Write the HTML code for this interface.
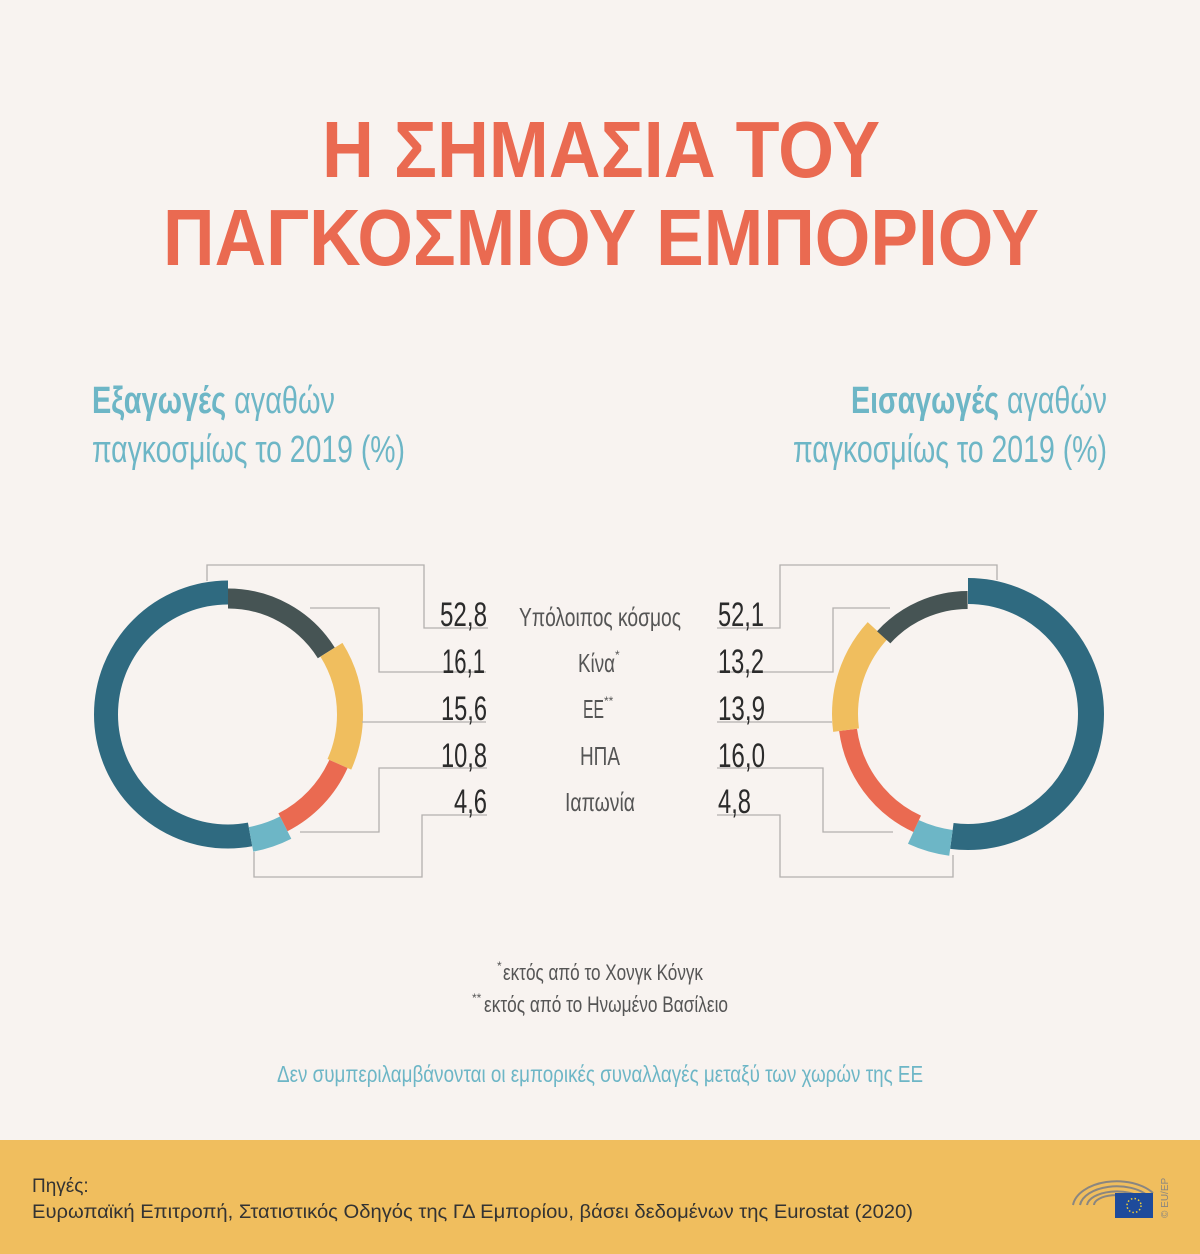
<!DOCTYPE html>
<html><head><meta charset="utf-8"><style>
html,body{margin:0;padding:0;background:#f8f3f0}
svg{display:block}
text{font-family:"Liberation Sans Narrow","Liberation Sans",sans-serif}
</style></head><body>
<svg width="1200" height="1254" viewBox="0 0 1200 1254" xmlns="http://www.w3.org/2000/svg">
<rect width="1200" height="1254" fill="#f8f3f0"/>
<g fill="#ea6a51" font-weight="bold" font-size="80" text-anchor="middle" style="font-family:'Liberation Sans',sans-serif">
<text x="601" y="177" textLength="558" lengthAdjust="spacingAndGlyphs">Η ΣΗΜΑΣΙΑ ΤΟΥ</text>
<text x="601" y="265" textLength="876" lengthAdjust="spacingAndGlyphs">ΠΑΓΚΟΣΜΙΟΥ ΕΜΠΟΡΙΟΥ</text>
</g>
<g fill="#6db6c6" font-size="38">
<text x="92" y="413" textLength="243" lengthAdjust="spacingAndGlyphs"><tspan font-weight="bold">Εξαγωγές</tspan> αγαθών</text>
<text x="92" y="462" textLength="313" lengthAdjust="spacingAndGlyphs">παγκοσμίως το 2019 (%)</text>
<text x="851" y="413" textLength="256" lengthAdjust="spacingAndGlyphs"><tspan font-weight="bold">Εισαγωγές</tspan> αγαθών</text>
<text x="793" y="462" textLength="314" lengthAdjust="spacingAndGlyphs">παγκοσμίως το 2019 (%)</text>
</g>
<!-- left donut -->
<g fill="none" transform="rotate(-90 228 714.5)">
<circle cx="228" cy="714.5" r="122" stroke="#2f6a80" stroke-width="24" pathLength="100" stroke-dasharray="52.9 100" stroke-dashoffset="-47.1"/>
<circle cx="228" cy="714.5" r="116" stroke="#465454" stroke-width="20" pathLength="100" stroke-dasharray="16.1 100" stroke-dashoffset="0"/>
<circle cx="228" cy="714.5" r="122" stroke="#f0be5e" stroke-width="26" pathLength="100" stroke-dasharray="15.6 100" stroke-dashoffset="-16.1"/>
<circle cx="228" cy="714.5" r="121" stroke="#ea6a51" stroke-width="20" pathLength="100" stroke-dasharray="10.8 100" stroke-dashoffset="-31.7"/>
<circle cx="228" cy="714.5" r="127" stroke="#6db6c6" stroke-width="25" pathLength="100" stroke-dasharray="4.6 100" stroke-dashoffset="-42.5"/>
</g>
<!-- right donut -->
<g fill="none" transform="rotate(-90 968 714)">
<circle cx="968" cy="714" r="123" stroke="#2f6a80" stroke-width="26" pathLength="100" stroke-dasharray="52.1 100" stroke-dashoffset="0"/>
<circle cx="968" cy="714" r="130" stroke="#6db6c6" stroke-width="26" pathLength="100" stroke-dasharray="4.8 100" stroke-dashoffset="-52.1"/>
<circle cx="968" cy="714" r="121" stroke="#ea6a51" stroke-width="18" pathLength="100" stroke-dasharray="16.0 100" stroke-dashoffset="-56.9"/>
<circle cx="968" cy="714" r="123" stroke="#f0be5e" stroke-width="26" pathLength="100" stroke-dasharray="13.9 100" stroke-dashoffset="-72.9"/>
<circle cx="968" cy="714" r="114" stroke="#465454" stroke-width="18" pathLength="100" stroke-dasharray="13.2 100" stroke-dashoffset="-86.8"/>
</g>
<g fill="none" stroke="#b3b0ae" stroke-width="1.3">
<polyline points="207,581 207,565 424,565 424,628 488,628"/>
<polyline points="310,608 379,608 379,672 486,672"/>
<polyline points="362,722 486,722"/>
<polyline points="300,832 379,832 379,768 487,768"/>
<polyline points="254,852 254,877 422,877 422,815 487,815"/>
<polyline points="997,580 997,565 780,565 780,628 717,628"/>
<polyline points="890,608 833,608 833,672 717,672"/>
<polyline points="832,722 717,722"/>
<polyline points="893,832 823,832 823,768 717,768"/>
<polyline points="953,855 953,877 780,877 780,815 717,815"/>
</g>
<g fill="#2b2b2b" font-size="34">
<g text-anchor="end">
<text x="487" y="626" textLength="47" lengthAdjust="spacingAndGlyphs">52,8</text>
<text x="485" y="673" textLength="43" lengthAdjust="spacingAndGlyphs">16,1</text>
<text x="487" y="720" textLength="46" lengthAdjust="spacingAndGlyphs">15,6</text>
<text x="487" y="767" textLength="46" lengthAdjust="spacingAndGlyphs">10,8</text>
<text x="487" y="813" textLength="33" lengthAdjust="spacingAndGlyphs">4,6</text>
</g>
<text x="718" y="626" textLength="46" lengthAdjust="spacingAndGlyphs">52,1</text>
<text x="718" y="673" textLength="46" lengthAdjust="spacingAndGlyphs">13,2</text>
<text x="718" y="720" textLength="47" lengthAdjust="spacingAndGlyphs">13,9</text>
<text x="718" y="767" textLength="47" lengthAdjust="spacingAndGlyphs">16,0</text>
<text x="718" y="813" textLength="33" lengthAdjust="spacingAndGlyphs">4,8</text>
</g>
<g fill="#555" font-size="26">
<text x="519" y="626" textLength="162" lengthAdjust="spacingAndGlyphs">Υπόλοιπος κόσμος</text>
<text x="578" y="672" textLength="37" lengthAdjust="spacingAndGlyphs">Κίνα</text>
<text x="615" y="659" font-size="12">*</text>
<text x="583" y="718" textLength="21" lengthAdjust="spacingAndGlyphs">ΕΕ</text>
<text x="604" y="705" font-size="12">**</text>
<text x="580" y="765" textLength="40" lengthAdjust="spacingAndGlyphs">ΗΠΑ</text>
<text x="565" y="811" textLength="70" lengthAdjust="spacingAndGlyphs">Ιαπωνία</text>
</g>
<g fill="#555" font-size="22">
<text x="497" y="970" font-size="12">*</text>
<text x="503" y="980" textLength="200" lengthAdjust="spacingAndGlyphs">εκτός από το Χονγκ Κόνγκ</text>
<text x="472" y="1002" font-size="12">**</text>
<text x="484" y="1012" textLength="244" lengthAdjust="spacingAndGlyphs">εκτός από το Ηνωμένο Βασίλειο</text>
</g>
<text x="600" y="1082" fill="#6db6c6" font-size="23" text-anchor="middle" textLength="646" lengthAdjust="spacingAndGlyphs">Δεν συμπεριλαμβάνονται οι εμπορικές συναλλαγές μεταξύ των χωρών της ΕΕ</text>
<rect x="0" y="1140" width="1200" height="114" fill="#f0be5e"/>
<g fill="#333" font-size="19" style="font-family:'Liberation Sans',sans-serif">
<text x="32" y="1192">Πηγές:</text>
<text x="32" y="1218" textLength="881" lengthAdjust="spacingAndGlyphs">Ευρωπαϊκή Επιτροπή, Στατιστικός Οδηγός της ΓΔ Εμπορίου, βάσει δεδομένων της Eurostat (2020)</text>
</g>
<g fill="none" stroke="#8a8680" stroke-width="2">
<path d="M1073,1205 A44,27 0 0 1 1153,1193"/>
<path d="M1080,1205 A37,21 0 0 1 1148,1196"/>
<path d="M1087,1205 A30,15 0 0 1 1143,1199"/>
<path d="M1094,1205 A23,10 0 0 1 1138,1201"/>
</g>
<rect x="1115" y="1193" width="38" height="25" fill="#1e4b9b"/>
<circle cx="1134" cy="1205.5" r="7" fill="none" stroke="#f5d033" stroke-width="1.5" stroke-dasharray="1.5 2.2"/>
<text x="0" y="0" fill="#8a8680" font-size="10" transform="translate(1168,1218) rotate(-90)">© EU/EP</text>
</svg>
</body></html>
